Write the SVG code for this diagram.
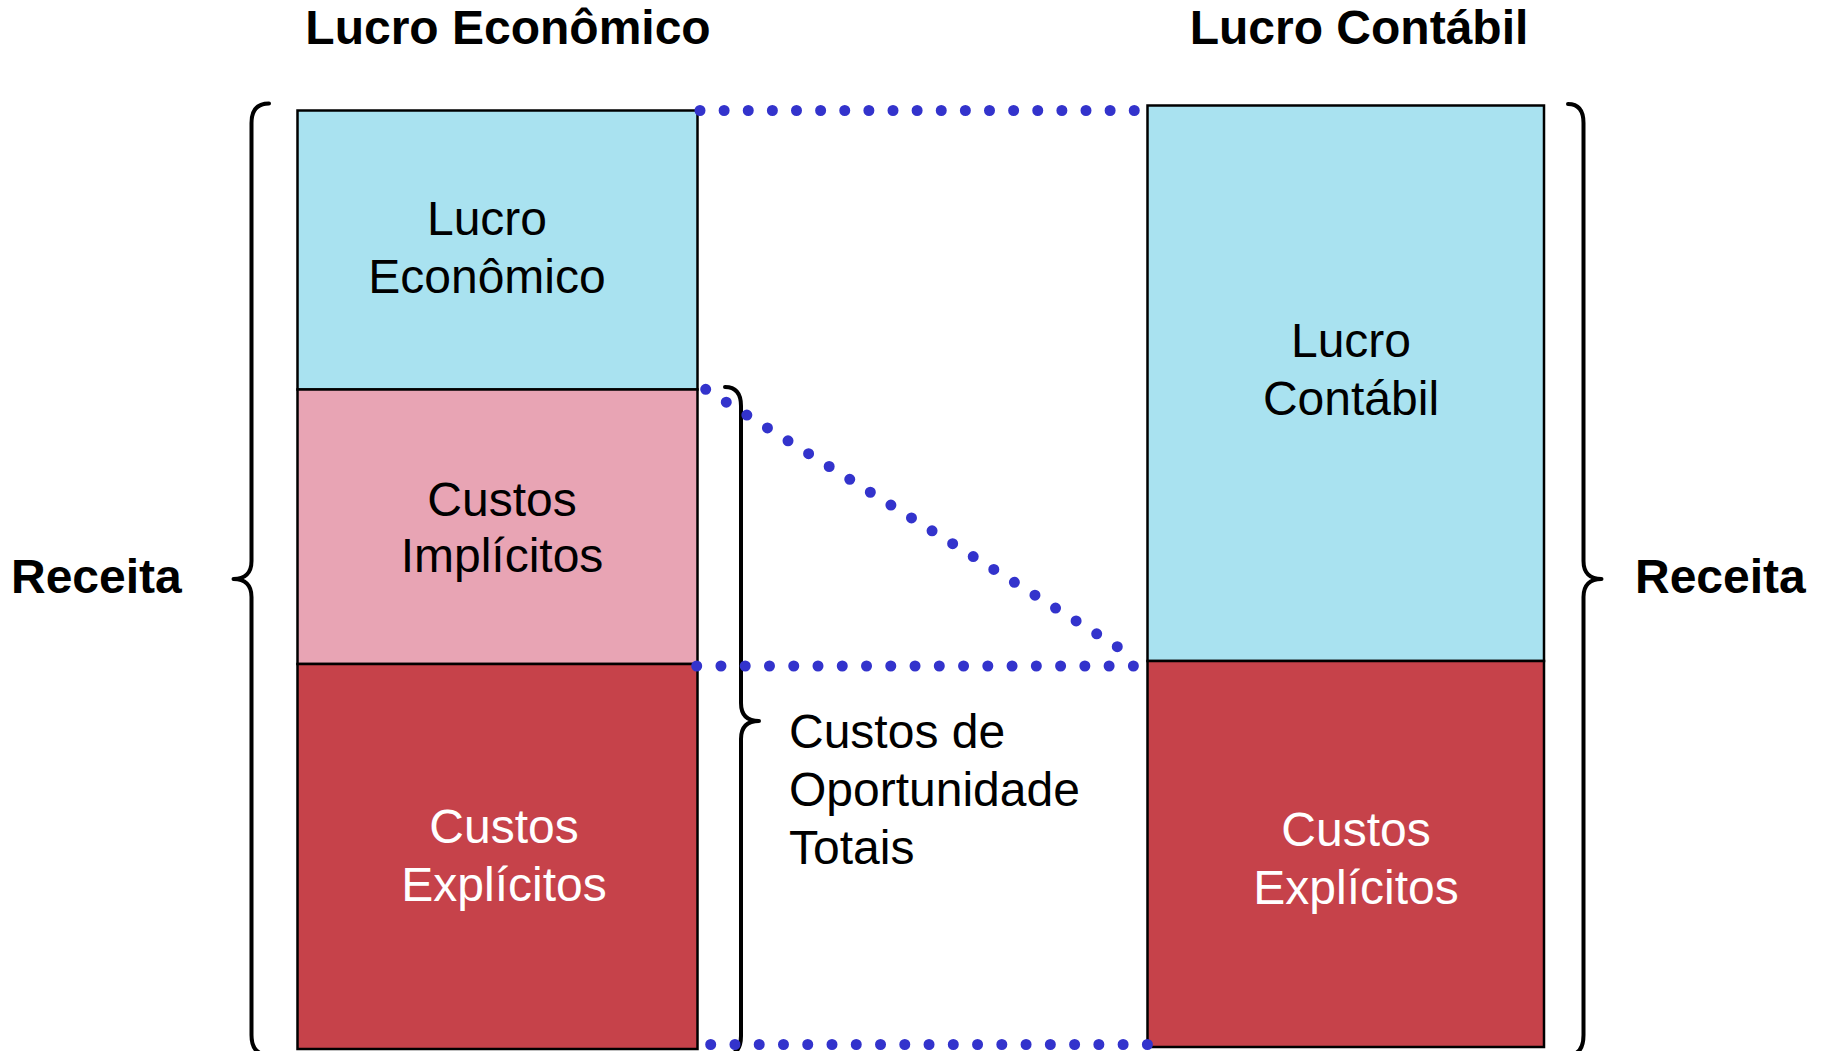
<svg xmlns="http://www.w3.org/2000/svg" width="1824" height="1051" viewBox="0 0 1824 1051">
<style>
.box{stroke:#000;stroke-width:2.5}
.blue{fill:#A9E2F0}
.pink{fill:#E8A4B4}
.red{fill:#C6424A}
.lbl{font-family:"Liberation Sans",Arial,sans-serif;font-size:48px;text-anchor:middle;fill:#000}
.left{text-anchor:start}
.wlbl{fill:#fff}
.title{font-family:"Liberation Sans",Arial,sans-serif;font-size:48px;font-weight:bold;fill:#000}
.brace{fill:none;stroke:#000;stroke-width:4;stroke-linecap:round;stroke-linejoin:round}
.dots{fill:none;stroke:#3333CC;stroke-width:11;stroke-linecap:round}
</style>
<rect width="1824" height="1051" fill="#fff"/>
<text class="title" x="508" y="44" text-anchor="middle">Lucro Econômico</text>
<text class="title" x="1359" y="44" text-anchor="middle">Lucro Contábil</text>
<text class="title" x="11" y="593">Receita</text>
<text class="title" x="1635" y="593">Receita</text>
<g id="le-lucro">
<rect class="box blue" x="297.5" y="110.5" width="400" height="279"/>
<text class="lbl" x="487" y="234.5">Lucro</text>
<text class="lbl" x="487" y="292.5">Econômico</text>
</g>
<g id="le-implicitos">
<rect class="box pink" x="297.5" y="389.5" width="400" height="274.5"/>
<text class="lbl" x="502" y="516">Custos</text>
<text class="lbl" x="502" y="572">Implícitos</text>
</g>
<g id="le-explicitos">
<rect class="box red" x="297.5" y="664" width="400" height="385"/>
<text class="lbl wlbl" x="504" y="843">Custos</text>
<text class="lbl wlbl" x="504" y="901">Explícitos</text>
</g>
<g id="lc-lucro">
<rect class="box blue" x="1147.5" y="105.5" width="396.5" height="555.5"/>
<text class="lbl" x="1351" y="357">Lucro</text>
<text class="lbl" x="1351" y="415">Contábil</text>
</g>
<g id="lc-explicitos">
<rect class="box red" x="1147.5" y="661" width="396.5" height="386"/>
<text class="lbl wlbl" x="1356" y="846">Custos</text>
<text class="lbl wlbl" x="1356" y="904">Explícitos</text>
</g>
<g id="brace-left">
<path class="brace" d="M269 103.5 Q251.5 103.5 251.5 123 L251.5 561 C251.5 573 245 579 233.5 579 C245 579 251.5 585 251.5 597 L251.5 1035 Q251.5 1055 269 1055"/>
</g>
<g id="brace-right">
<path class="brace" d="M1568 104 Q1583.5 104 1583.5 123 L1583.5 561 C1583.5 573 1590 579 1601.5 579 C1590 579 1583.5 585 1583.5 597 L1583.5 1035 Q1583.5 1055 1568 1055"/>
</g>
<g id="brace-oportunidade">
<path class="brace" d="M725 387 Q741 387 741 406 L741 703 C741 715 747 721 759 721 C747 721 741 727 741 739 L741 1036 Q741 1055 725 1055"/>
<text class="lbl left" x="789" y="748">Custos de</text>
<text class="lbl left" x="789" y="806">Oportunidade</text>
<text class="lbl left" x="789" y="864">Totais</text>
</g>
<g id="connectors">
<line class="dots" x1="700" y1="110.5" x2="1135" y2="110.5" stroke-dasharray="0 24.125"/>
<line class="dots" x1="705.7" y1="389.3" x2="1118" y2="647.1" stroke-dasharray="0 24.27"/>
<line class="dots" x1="696.7" y1="666" x2="1134" y2="666" stroke-dasharray="0 24.26"/>
<line class="dots" x1="710.7" y1="1044.5" x2="1148" y2="1044.5" stroke-dasharray="0 24.26"/>
</g>
</svg>
